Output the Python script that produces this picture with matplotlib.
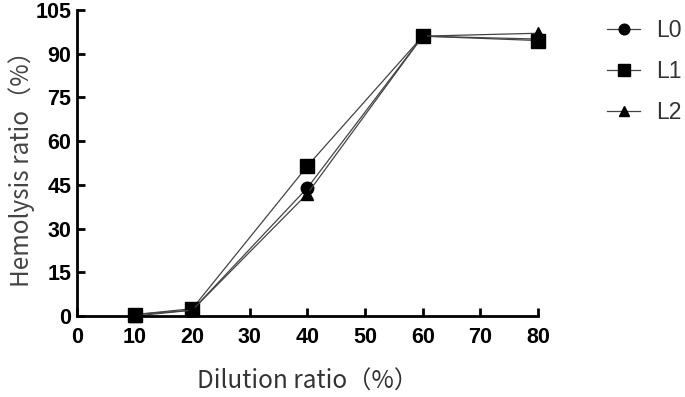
import numpy as np
import matplotlib
matplotlib.use("Agg")
from matplotlib import pyplot as plt

# dilution ratio (%) and hemolysis ratio (%)
dilution = [10, 20, 40, 60, 80]
L0 = [0.5, 2.0, 44.0, 96.0, 95.0]
L1 = [0.5, 2.5, 51.5, 96.0, 94.5]
L2 = [0.0, 2.0, 42.0, 96.0, 97.0]
names = ["L0", "L1", "L2"]
markers = ["o", "s", "^"]

xticks = list(range(0, 90, 10))
yticks = list(range(0, 106, 15))

plt.rcParams['font.family'] = ['Liberation Sans', 'Noto Sans CJK SC', 'DejaVu Sans']

fig = plt.figure(figsize=(6.85, 3.97), dpi=100)
ax = fig.add_axes([0.1124, 0.204, 0.673, 0.771])

for ys, nm, mk in zip([L0, L1, L2], names, markers):
    ax.plot(dilution, ys, marker=mk, color="#444444", lw=0.9,
            markerfacecolor="black", markeredgecolor="black",
            markersize=9 if mk != "s" else 9.5, label=nm, clip_on=False)

ax.set_xlim(0, 80)
ax.set_ylim(0, 105)
ax.set_xticks(xticks)
ax.set_yticks(yticks)
ax.spines['top'].set_visible(False)
ax.spines['right'].set_visible(False)
for s in ['left', 'bottom']:
    ax.spines[s].set_linewidth(2)
ax.tick_params(direction='in', length=6, width=2, labelsize=15.5)
ax.tick_params(axis='x', pad=8)
ax.tick_params(axis='y', pad=4)
for lab in ax.get_xticklabels() + ax.get_yticklabels():
    lab.set_fontweight('bold')

ax.set_xlabel("Dilution ratio（%）", fontsize=17.5, color="#333333",
              family=['Noto Sans CJK SC', 'DejaVu Sans'], labelpad=15)
ax.set_ylabel("Hemolysis ratio（%）", fontsize=17.5, color="#444444",
              family=['Noto Sans CJK SC', 'DejaVu Sans'], labelpad=0)

leg = fig.legend(loc='upper left', bbox_to_anchor=(607 / 685, 1 - 19 / 397),
                 frameon=False, fontsize=16.5, handlelength=1.45,
                 labelspacing=0.78, handletextpad=0.7, borderpad=0,
                 borderaxespad=0, markerscale=0.85)
for t in leg.get_texts():
    t.set_color("#333333")

fig.savefig("out.png", dpi=100)
